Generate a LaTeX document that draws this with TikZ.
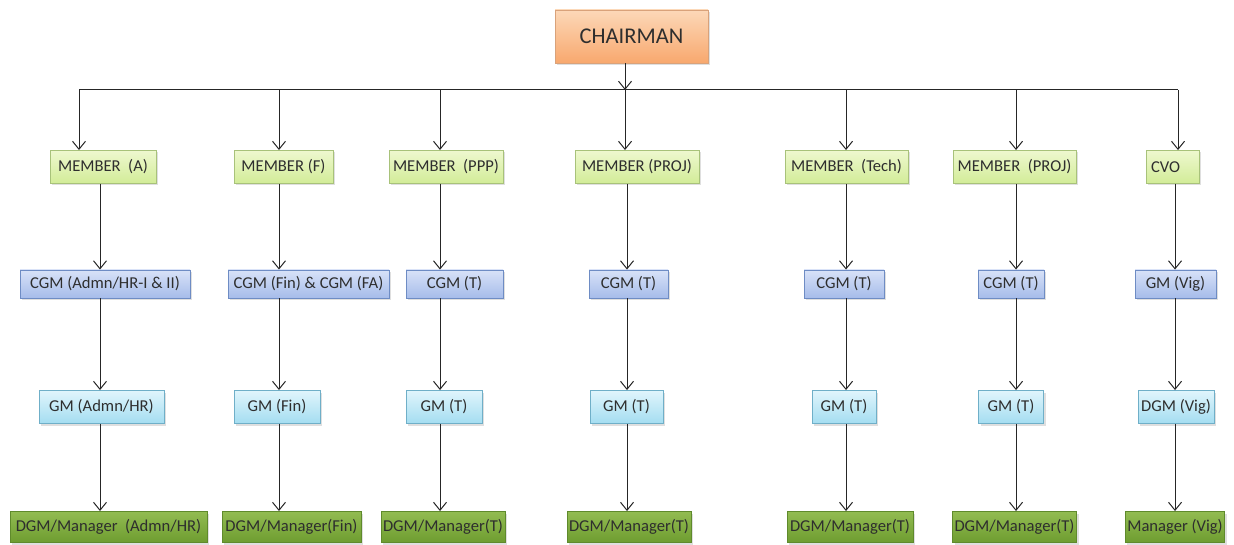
\documentclass[tikz,border=0pt]{standalone}
\usepackage{fontspec}
\setmainfont{Carlito}
\usetikzlibrary{arrows.meta,shadows}

\definecolor{chairtop}{HTML}{FCD8B8}
\definecolor{chairbot}{HTML}{F8A86E}
\definecolor{chairline}{HTML}{D9A27A}
\definecolor{memtop}{HTML}{EEF8CF}
\definecolor{membot}{HTML}{D2EC98}
\definecolor{memline}{HTML}{A8C27A}
\definecolor{cgmtop}{HTML}{D8E2F8}
\definecolor{cgmbot}{HTML}{A6BCEA}
\definecolor{cgmline}{HTML}{6E8CC4}
\definecolor{gmtop}{HTML}{E0F5FC}
\definecolor{gmbot}{HTML}{A4DDF1}
\definecolor{gmline}{HTML}{6FAFC8}
\definecolor{dgmtop}{HTML}{92BC52}
\definecolor{dgmbot}{HTML}{6E9C30}
\definecolor{dgmline}{HTML}{5F8A2C}

\tikzset{
  box/.style={draw, rectangle, inner sep=2pt, line width=0.9pt,
    drop shadow={shadow xshift=2pt, shadow yshift=-2pt, opacity=0.25},
    font=\fontsize{16.6}{19}\selectfont, text=black!82},
  chairbox/.style={box, draw=chairline, top color=chairtop, bottom color=chairbot,
    font=\fontsize{22.5}{26}\selectfont},
  memberbox/.style={box, draw=memline, top color=memtop, bottom color=membot, minimum height=33pt},
  cgmbox/.style={box, draw=cgmline, top color=cgmtop, bottom color=cgmbot, minimum height=28pt},
  gmbox/.style={box, draw=gmline, top color=gmtop, bottom color=gmbot, minimum height=33pt},
  dgmbox/.style={box, draw=dgmline, top color=dgmtop, bottom color=dgmbot, minimum height=31pt},
  link/.style={-{Straight Barb[length=8pt,width=13pt]}, line width=1pt, black!85},
}

\begin{document}
\begin{tikzpicture}[x=1pt,y=-1pt]
  \useasboundingbox (0,0) rectangle (1234,545);

  % top
  \node[chairbox, minimum width=153pt, minimum height=53pt] (chair) at (631.5,36.5) {CHAIRMAN};
  \coordinate (bus) at (625,90);
  \coordinate (busL) at (79,90);
  \coordinate (busR) at (1178,90);
  \draw[line width=1pt, black!85] (busL) -- (busR);
  \draw[link] (bus |- chair.south) -- (bus);

  % members
  \node[memberbox, minimum width=106pt] (memA) at (103,167) {MEMBER\ \ (A)};
  \node[memberbox, minimum width=99pt] (memF) at (283.5,167) {MEMBER (F)};
  \node[memberbox, minimum width=114pt] (memP) at (446,167) {MEMBER\ \ (PPP)};
  \node[memberbox, minimum width=124pt] (memJ) at (637,167) {MEMBER (PROJ)};
  \node[memberbox, minimum width=123pt] (memT) at (846.5,167) {MEMBER\ \ (Tech)};
  \node[memberbox, minimum width=123pt] (memK) at (1014.5,167) {MEMBER\ \ (PROJ)};
  \node[memberbox, minimum width=53pt, text width=43pt, align=left] (cvo) at (1172.5,167) {CVO};

  % CGM row
  \node[cgmbox, minimum width=170pt] (cgmA) at (105,284) {CGM (Admn/HR-I \& II)};
  \node[cgmbox, minimum width=161pt] (cgmF) at (308.5,284) {CGM (Fin) \& CGM (FA)};
  \node[cgmbox, minimum width=97pt] (cgmP) at (454.5,284) {CGM (T)};
  \node[cgmbox, minimum width=79pt] (cgmJ) at (628.5,284) {CGM (T)};
  \node[cgmbox, minimum width=80pt] (cgmT) at (844,284) {CGM (T)};
  \node[cgmbox, minimum width=66pt] (cgmK) at (1011,284) {CGM (T)};
  \node[cgmbox, minimum width=81pt] (cgmV) at (1175.5,284) {GM (Vig)};

  % GM row
  \node[gmbox, minimum width=125pt] (gmA) at (101.5,407) {GM (Admn/HR)};
  \node[gmbox, minimum width=86pt] (gmF) at (277,407) {GM (Fin)};
  \node[gmbox, minimum width=76pt] (gmP) at (444,407) {GM (T)};
  \node[gmbox, minimum width=73pt] (gmJ) at (626.5,407) {GM (T)};
  \node[gmbox, minimum width=64pt] (gmT) at (844,407) {GM (T)};
  \node[gmbox, minimum width=65pt] (gmK) at (1011,407) {GM (T)};
  \node[gmbox, minimum width=76pt] (gmV) at (1176,407) {DGM (Vig)};

  % DGM row
  \node[dgmbox, minimum width=197pt] (dgmA) at (108.5,527) {DGM/Manager\ \ (Admn/HR)};
  \node[dgmbox, minimum width=139pt] (dgmF) at (291.5,527) {DGM/Manager(Fin)};
  \node[dgmbox, minimum width=108pt] (dgmP) at (443,527) {DGM/Manager(T)};
  \node[dgmbox, minimum width=108pt] (dgmJ) at (629,527) {DGM/Manager(T)};
  \node[dgmbox, minimum width=126pt] (dgmT) at (850,527) {DGM/Manager(T)};
  \node[dgmbox, minimum width=123pt] (dgmK) at (1014.5,527) {DGM/Manager(T)};
  \node[dgmbox, minimum width=98pt] (dgmV) at (1175,527) {Manager (Vig)};

  % column lines
  \coordinate (xA) at (100,0);
  \coordinate (xF) at (279,0);
  \coordinate (xP) at (440,0);
  \coordinate (xJ) at (627,0);
  \coordinate (xT) at (846,0);
  \coordinate (xK) at (1016,0);
  \coordinate (xV) at (1175,0);

  \draw[link] (busL) -- (busL |- memA.north);
  \draw[link] (xF |- bus) -- (xF |- memF.north);
  \draw[link] (xP |- bus) -- (xP |- memP.north);
  \draw[link] (bus) -- (bus |- memJ.north);
  \draw[link] (xT |- bus) -- (xT |- memT.north);
  \draw[link] (xK |- bus) -- (xK |- memK.north);
  \draw[link] (busR) -- (busR |- cvo.north);

  \draw[link] (xA |- memA.south) -- (xA |- cgmA.north);
  \draw[link] (xF |- memF.south) -- (xF |- cgmF.north);
  \draw[link] (xP |- memP.south) -- (xP |- cgmP.north);
  \draw[link] (xJ |- memJ.south) -- (xJ |- cgmJ.north);
  \draw[link] (xT |- memT.south) -- (xT |- cgmT.north);
  \draw[link] (xK |- memK.south) -- (xK |- cgmK.north);
  \draw[link] (xV |- cvo.south) -- (xV |- cgmV.north);

  \draw[link] (xA |- cgmA.south) -- (xA |- gmA.north);
  \draw[link] (xF |- cgmF.south) -- (xF |- gmF.north);
  \draw[link] (xP |- cgmP.south) -- (xP |- gmP.north);
  \draw[link] (xJ |- cgmJ.south) -- (xJ |- gmJ.north);
  \draw[link] (xT |- cgmT.south) -- (xT |- gmT.north);
  \draw[link] (xK |- cgmK.south) -- (xK |- gmK.north);
  \draw[link] (xV |- cgmV.south) -- (xV |- gmV.north);

  \draw[link] (xA |- gmA.south) -- (xA |- dgmA.north);
  \draw[link] (xF |- gmF.south) -- (xF |- dgmF.north);
  \draw[link] (xP |- gmP.south) -- (xP |- dgmP.north);
  \draw[link] (xJ |- gmJ.south) -- (xJ |- dgmJ.north);
  \draw[link] (xT |- gmT.south) -- (xT |- dgmT.north);
  \draw[link] (xK |- gmK.south) -- (xK |- dgmK.north);
  \draw[link] (xV |- gmV.south) -- (xV |- dgmV.north);
\end{tikzpicture}
\end{document}
